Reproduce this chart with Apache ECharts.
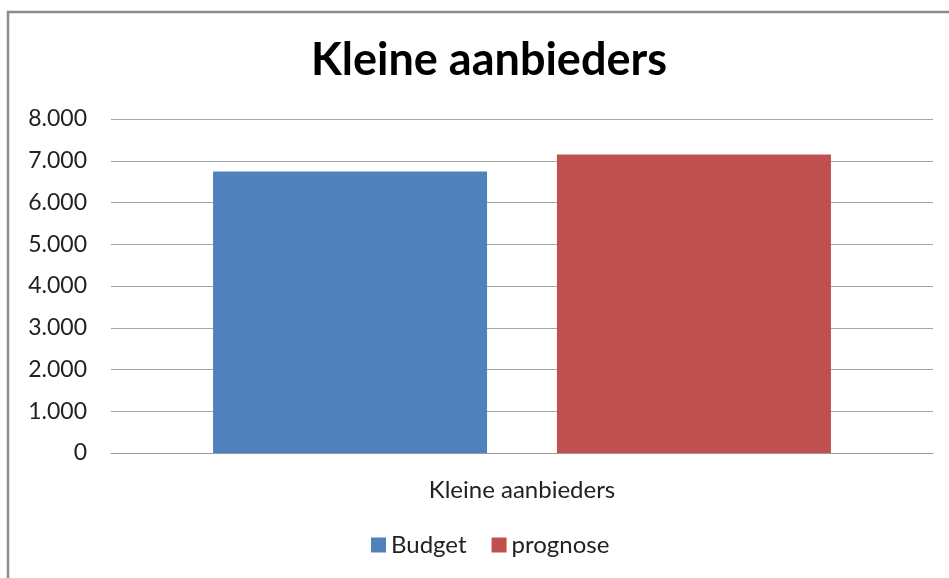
<!DOCTYPE html>
<html>
<head>
<meta charset="utf-8">
<script src="https://cdn.jsdelivr.net/npm/echarts@6/dist/echarts.min.js"></script>
<style>
	html,body{margin:0;padding:0;background:#fff;}
	#chart{width:949px;height:578px;}
</style>
</head>
<body>
<div id="chart"></div>
<script>
	// data
	const categories = ['Kleine aanbieders'];
	const budgetValues = [6740];
	const prognoseValues = [7150];
	const yTicks = [0, 1000, 2000, 3000, 4000, 5000, 6000, 7000, 8000];

	const fontName = 'Lato, "Open Sans", sans-serif';

	const myChart = echarts.init(document.getElementById('chart'));
	const option = {
		backgroundColor: '#fff',
		animation: false,
		title: {
			text: 'Kleine aanbieders',
			left: 306,
			top: 33,
			textStyle: {
				fontFamily: fontName,
				fontSize: 45,
				fontWeight: 'bold',
				color: '#000'
			}
		},
		legend: {
			bottom: 16,
			left: 366,
			itemWidth: 15,
			itemHeight: 15,
			itemGap: 25,
			icon: 'rect',
			textStyle: {
				fontFamily: fontName,
				fontSize: 24,
				color: '#222'
			},
			data: ['Budget', 'prognose']
		},
		grid: {
			left: 111,
			right: 16,
			top: 119,
			bottom: 125,
			containLabel: false
		},
		xAxis: {
			type: 'category',
			data: categories,
			axisLine: {show: true, lineStyle: {color: '#999', width: 1}},
			axisTick: {show: false},
			axisLabel: {
				margin: 25,
				fontFamily: fontName,
				fontSize: 24,
				color: '#222'
			}
		},
		yAxis: {
			type: 'value',
			min: yTicks[0],
			max: yTicks[yTicks.length - 1],
			interval: 1000,
			axisLine: {show: false},
			axisTick: {show: false},
			splitLine: {show: true, lineStyle: {color: '#a6a6a6', width: 1}},
			axisLabel: {
				margin: 24,
				fontFamily: fontName,
				fontSize: 23,
				color: '#222',
				formatter: function (v) {
					return v === 0 ? '0' : v.toLocaleString('nl-NL');
				}
			}
		},
		series: [{
			name: 'Budget',
			type: 'bar',
			barWidth: 274,
			barGap: '25.5%',
			data: budgetValues,
			itemStyle: {color: '#4f81bd'}
		}, {
			name: 'prognose',
			type: 'bar',
			barWidth: 274,
			barGap: '25.5%',
			data: prognoseValues,
			itemStyle: {color: '#c0504d'}
		}],
		graphic: [{
			type: 'rect',
			shape: {x: 8, y: 12, width: 960, height: 600},
			style: {fill: 'none', stroke: '#8c8c8c', lineWidth: 2.5},
			silent: true
		}]
	};
	myChart.setOption(option);
</script>
</body>
</html>
